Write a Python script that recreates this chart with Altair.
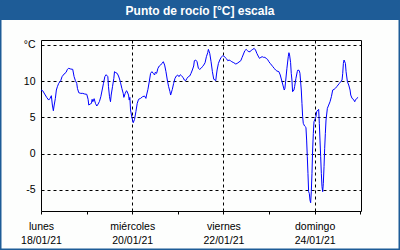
import altair as alt
import pandas as pd

# hours since Mon 18/01/21 00:00 and dew point values (°C)
hours = [
    0, 0.88, 1.93, 2.99, 4.04, 4.75, 5.45, 5.98, 6.51, 6.86, 7.56, 8.09, 8.62, 9.32,
    10.37, 11.08, 12.13, 13.19, 13.89, 14.59, 15.65, 16.7, 17.41, 18.11, 18.81, 19.17,
    19.87, 20.92, 21.98, 23.03, 24.09, 24.79, 25.14, 25.85, 26.55, 26.9, 27.26, 27.96,
    28.66, 29.36, 30.07, 30.77, 31.48, 32.18, 32.88, 33.59, 34.29,
    35.17, 35.52, 36.05, 36.57, 36.93, 37.63, 38.33, 38.68, 39.39, 40.09, 40.79, 41.5,
    41.85, 42.55, 43.26, 43.61, 44.31, 45.01, 45.37, 46.07, 46.42, 46.77, 47.12, 47.83,
    48.53, 49.23, 49.94, 50.64, 51.34, 52.4, 53.45, 54.51, 55.21, 55.56, 56.27, 56.97,
    57.67, 58.38, 59.08, 59.78, 60.14, 60.84, 61.54, 62.25, 62.95, 63.65, 64.36, 65.06,
    65.76, 66.47, 67.17, 67.87, 68.22,
    69.1, 69.81, 70.51, 71.21, 71.92, 72.62, 73.32, 74.03, 74.73, 75.43, 76.14, 76.84,
    77.54, 78.25, 78.95, 79.65, 80.36, 80.71, 81.41, 82.12, 82.82, 83.52, 84.23, 84.93,
    85.63, 86.34, 87.04, 87.74, 88.09, 88.8, 89.5, 90.2, 90.91, 91.61, 91.96, 92.31,
    92.67, 93.37, 94.07, 94.78, 95.48, 96.18, 96.89, 97.59, 98.29, 99.0, 99.7, 100.4,
    101.46, 102.51, 103.22,
    105.15, 105.85, 106.56, 107.26, 107.96, 108.67, 109.37, 110.07, 110.78, 111.48,
    112.18, 112.89, 113.59, 114.29, 115.0, 115.7, 116.4, 117.11, 117.81, 118.51, 119.22,
    119.92, 120.62, 121.33, 122.03, 122.73, 123.44, 124.14, 125.19, 125.9, 126.6, 127.3,
    128.01, 128.36, 128.71, 129.41, 130.12, 130.47, 130.82, 131.17,
    131.35, 131.7, 132.05, 132.4, 133.1, 133.46, 134.16, 134.86, 135.21, 135.92, 136.27,
    136.62, 136.98, 137.33, 137.68, 138.03, 138.73, 139.43, 139.79, 140.14, 140.49,
    140.84, 141.19, 141.55, 141.9, 142.25, 142.6, 142.95, 143.31, 143.66, 144.01, 144.36,
    144.71, 145.07, 145.77, 146.12, 146.47, 146.82, 147.18, 147.53, 147.88, 148.23,
    148.58, 148.94, 149.29, 149.64, 149.99, 150.7, 151.4, 152.1, 152.81, 153.51, 154.21,
    154.91, 155.62, 156.32, 157.02, 157.73, 158.43, 158.78, 159.13, 159.48, 160.19,
    160.54, 161.24, 161.94, 162.65, 163.0, 163.7, 164.4, 165.11, 165.46, 166.16, 166.86,
]
dew_point = [
    8.76, 8.67, 8.21, 7.75, 7.38, 7.61, 7.98, 6.69, 5.91, 6.56, 7.61, 8.76, 9.22, 9.68,
    10.05, 10.6, 10.96, 11.19, 11.61, 11.75, 11.65, 11.61, 10.6, 10.05, 9.68, 8.99,
    8.39, 8.30, 8.30, 8.21, 8.17, 7.48, 6.69, 6.83, 6.92, 7.48, 7.15, 7.57,
    6.92, 6.56, 6.83, 7.2, 7.84, 8.76, 9.68, 10.6, 10.87,
    10.6, 9.22, 7.84, 7.15, 8.07, 9.22, 10.37, 11.29, 11.15, 11.06, 10.69, 10.14,
    9.77, 8.99, 8.3, 7.75, 8.3, 8.67, 8.53, 8.07, 7.38, 7.75, 6.01, 5.0,
    4.26, 4.72, 5.78, 6.92, 7.48, 7.61, 7.84, 7.93, 7.61, 8.07, 8.85, 9.91,
    11.06, 11.29, 11.06, 10.83, 11.2, 11.06, 11.75, 12.07, 12.2, 12.43, 12.66, 12.2,
    11.29, 10.14, 9.22, 8.53, 8.07,
    8.85, 9.68, 10.37, 10.69, 10.83, 10.6, 10.87, 10.69, 10.51, 10.14, 10.05, 10.37,
    10.6, 10.69, 11.06, 11.52, 12.07, 12.8, 12.89, 12.66, 11.75, 11.61, 11.75, 11.97,
    12.2, 12.52, 13.35, 13.9, 14.36, 13.81, 12.66, 11.29, 10.24, 10.14, 10.05, 10.83,
    11.52, 12.43, 12.89, 13.26, 13.44, 13.44, 13.26, 13.08, 12.8, 12.89, 12.8, 12.66,
    12.52, 12.34, 12.43,
    12.8, 13.26, 13.72, 14.18, 14.36, 14.18, 14.04, 14.04, 14.27, 14.36,
    14.5, 14.27, 13.81, 13.44, 13.12, 13.26, 13.35, 13.26, 13.26, 13.12, 12.98,
    12.66, 12.43, 12.2, 11.97, 11.75, 11.52, 11.38, 11.29, 10.83, 10.14, 9.45,
    8.76, 8.99, 9.91, 11.75, 13.35, 13.9, 13.58, 12.89,
    12.53, 11.06, 10.14, 8.53, 8.76, 9.22, 10.37, 11.29, 11.52, 11.43, 11.06,
    9.91, 8.76, 6.92, 5.09, 4.17, 3.8, 3.62, 1.87, -0.42, -2.72,
    -5.24, -5.47, -6.39, -6.76, -5.24, -2.72, 0.5, 2.79, 4.4, 4.63, 4.86,
    5.09, 5.78, 6.01, 6.1, 4.17, 1.87, -0.42, -2.72, -4.55, -5.24,
    -4.09, -1.8, 0.73, 2.79, 4.63, 6.24, 6.69, 7.15, 7.84, 8.76, 8.85,
    8.99, 9.22, 9.45, 9.68, 9.91, 10.14, 11.06, 12.43, 12.89, 12.43,
    11.29, 9.91, 9.45, 8.76, 8.07, 7.61, 7.48, 7.15, 7.38, 7.61, 7.75,
]

y_ticks = [15, 10, 5, 0, -5]
y_tick_labels = ["°C", "10", "5", "0", "-5"]
x_tick_hours = [0, 24, 48, 72, 96, 120, 144, 168]
x_major_hours = [0, 48, 96, 144]
x_major_day = ["lunes", "miércoles", "viernes", "domingo"]
x_major_date = ["18/01/21", "20/01/21", "22/01/21", "24/01/21"]

title_text = "Punto de rocío [°C] escala"
BLUE = "#1e5c97"
FONT = "Liberation Sans"

df = pd.DataFrame({"h": hours, "v": dew_point})

x_scale = alt.Scale(domain=[0, 168.4], nice=False, zero=False)
y_scale = alt.Scale(domain=[-7.9, 15.65], nice=False, zero=False)

x_label_expr = " : ".join(
    f"datum.value == {h} ? ['{d}', '{t}']"
    for h, d, t in zip(x_major_hours, x_major_day, x_major_date)
) + " : ''"
y_label_expr = " : ".join(
    f"datum.value == {v} ? '{l}'" for v, l in zip(y_ticks, y_tick_labels)
) + " : ''"

x_grid_test = "datum.value > 0 && datum.value < 168 && datum.value % 48 == 0"

line = alt.Chart(df).mark_line(color="#0000ff", strokeWidth=1).encode(
    x=alt.X(
        "h:Q",
        scale=x_scale,
        axis=alt.Axis(
            values=x_tick_hours,
            labelExpr=x_label_expr,
            title=None,
            grid=True,
            gridColor="black",
            gridDash=[3, 3],
            gridOpacity={"condition": {"test": x_grid_test, "value": 1}, "value": 0},
            ticks=True,
            tickSize=3,
            tickColor="black",
            domain=False,
            labelFont=FONT,
            labelFontSize=10.5,
            labelColor="black",
            labelPadding=7,
            labelLineHeight=14,
            labelAngle=0,
            labelFlush=False,
            labelOverlap=False,
        ),
    ),
    y=alt.Y(
        "v:Q",
        scale=y_scale,
        axis=alt.Axis(
            values=y_ticks,
            labelExpr=y_label_expr,
            title=None,
            grid=True,
            gridColor="black",
            gridDash=[3, 3],
            gridOpacity=1,
            ticks=False,
            domain=False,
            labelFont=FONT,
            labelFontSize=10.5,
            labelColor="black",
            labelPadding=6,
            labelFlush=False,
            labelOverlap=False,
        ),
    ),
)

one = pd.DataFrame({"a": [0]})

title_bar = alt.Chart(one).mark_rect(color=BLUE).encode(
    x=alt.value(-41), x2=alt.value(359), y=alt.value(-40), y2=alt.value(-20)
)
title = alt.Chart(one).mark_text(
    text=title_text, color="white", font=FONT, fontSize=12, fontWeight="bold",
    align="center", baseline="middle",
).encode(x=alt.value(159), y=alt.value(-29.5))
border = alt.Chart(one).mark_rect(
    fillOpacity=0, stroke=BLUE, strokeWidth=3
).encode(x=alt.value(-41), x2=alt.value(359), y=alt.value(-40), y2=alt.value(210))

chart = alt.layer(line, title_bar, title, border).properties(
    width=320,
    height=171,
    padding={"left": 41, "top": 40, "right": 39, "bottom": 39},
    autosize=alt.AutoSizeParams(type="none"),
    background="#fdfefd",
).configure_view(stroke="black", strokeWidth=1)

chart.save("out.html", embed_options={"renderer": "svg", "actions": False})
